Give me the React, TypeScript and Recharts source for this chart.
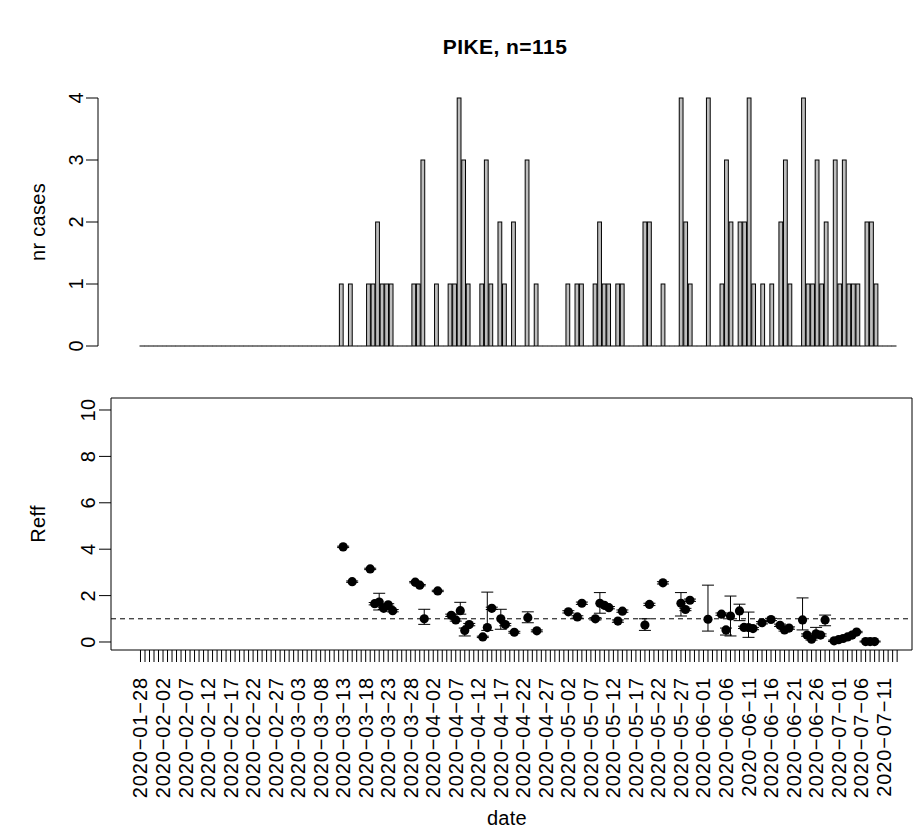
import React from 'react';
import {
  BarChart,
  Bar,
  XAxis,
  YAxis,
  ComposedChart,
  Scatter,
  ErrorBar,
  ReferenceLine,
  ReferenceArea,
} from 'recharts';

// ---------- data ----------
const TITLE = 'PIKE, n=115';
const caseStartDate = '2020-01-29';
// daily case counts, 167 days starting 2020-01-29
const cases = [
  0, 0, 0, 0, 0, 0, 0, 0, 0, 0,
  0, 0, 0, 0, 0, 0, 0, 0, 0, 0,
  0, 0, 0, 0, 0, 0, 0, 0, 0, 0,
  0, 0, 0, 0, 0, 0, 0, 0, 0, 0,
  0, 0, 0, 0,
  1, 0, 1, 0, 0, 0, 1, 1, 2, 1,
  1, 1, 0, 0, 0, 0, 1, 1, 3, 0,
  0, 1, 0, 0, 1, 1, 4, 3, 1, 0,
  0, 1, 3, 1, 0, 2, 1, 0, 2, 0,
  0, 3, 0, 1, 0, 0, 0, 0, 0, 0,
  1, 0, 1, 1, 0, 0, 1, 2, 1, 1,
  0, 1, 1, 0, 0, 0, 0, 2, 2, 0,
  0, 1, 0, 0, 0, 4, 2, 1, 0, 0,
  0, 4, 0, 0, 1, 3, 2, 0, 2, 2,
  4, 1, 0, 1, 0, 1, 0, 2, 3, 1,
  0, 0, 4, 1, 1, 3, 1, 2, 0, 3,
  1, 3, 1, 1, 1, 0, 2, 2, 1,
  0, 0, 0, 0,
];
const caseTicks = [0, 1, 2, 3, 4];

const reffDates = [
  '2020-03-13', '2020-03-15', '2020-03-19', '2020-03-20', '2020-03-21', '2020-03-22', '2020-03-23', '2020-03-24',
  '2020-03-29', '2020-03-30', '2020-03-31', '2020-04-03', '2020-04-06', '2020-04-07', '2020-04-08', '2020-04-09',
  '2020-04-10', '2020-04-13', '2020-04-14', '2020-04-15', '2020-04-17', '2020-04-18', '2020-04-20', '2020-04-23',
  '2020-04-25', '2020-05-02', '2020-05-04', '2020-05-05', '2020-05-08', '2020-05-09', '2020-05-10', '2020-05-11',
  '2020-05-13', '2020-05-14', '2020-05-19', '2020-05-20', '2020-05-23', '2020-05-27', '2020-05-28', '2020-05-29',
  '2020-06-02', '2020-06-05', '2020-06-06', '2020-06-07', '2020-06-09', '2020-06-10', '2020-06-11', '2020-06-12',
  '2020-06-14', '2020-06-16', '2020-06-18', '2020-06-19', '2020-06-20', '2020-06-23', '2020-06-24', '2020-06-25',
  '2020-06-26', '2020-06-27', '2020-06-28', '2020-06-30', '2020-07-01', '2020-07-02', '2020-07-03', '2020-07-04',
  '2020-07-05', '2020-07-07', '2020-07-08', '2020-07-09',
];
const reffMean = [
  4.1, 2.6, 3.15, 1.65, 1.72, 1.45, 1.6, 1.35,
  2.58, 2.45, 1.0, 2.2, 1.15, 0.95, 1.35, 0.5,
  0.75, 0.22, 0.62, 1.45, 1.0, 0.75, 0.42, 1.05,
  0.48, 1.3, 1.08, 1.67, 1.0, 1.67, 1.58, 1.48,
  0.9, 1.33, 0.73, 1.62, 2.55, 1.67, 1.4, 1.8,
  0.98, 1.2, 0.52, 1.12, 1.34, 0.63, 0.62, 0.58,
  0.83, 0.97, 0.72, 0.52, 0.6, 0.95, 0.3, 0.12,
  0.35, 0.3, 0.95, 0.05, 0.1, 0.15, 0.22, 0.3,
  0.43, 0.02, 0.02, 0.02,
];
const reffLow = [
  4.07, 2.57, 3.12, 1.6, 1.38, 1.4, 1.55, 1.3,
  2.55, 2.42, 0.76, 2.17, 1.1, 0.9, 1.2, 0.26,
  0.7, 0.19, 0.5, 1.4, 0.55, 0.7, 0.38, 0.83,
  0.44, 1.25, 1.03, 1.62, 0.95, 1.24, 1.53, 1.43,
  0.85, 1.28, 0.5, 1.57, 2.5, 1.12, 1.35, 1.75,
  0.47, 1.15, 0.3, 0.26, 0.92, 0.58, 0.2, 0.53,
  0.78, 0.92, 0.67, 0.47, 0.55, 0.52, 0.25, 0.08,
  0.25, 0.25, 0.7, 0.02, 0.07, 0.12, 0.19, 0.27,
  0.4, 0, 0, 0,
];
const reffHigh = [
  4.13, 2.63, 3.18, 1.7, 2.1, 1.5, 1.65, 1.4,
  2.61, 2.48, 1.41, 2.23, 1.2, 1.0, 1.71, 0.6,
  0.8, 0.25, 2.15, 1.5, 1.41, 0.8, 0.46, 1.3,
  0.52, 1.35, 1.13, 1.72, 1.05, 2.13, 1.63, 1.53,
  0.95, 1.38, 1.0, 1.67, 2.6, 2.13, 1.45, 1.85,
  2.45, 1.25, 0.6, 1.98, 1.63, 0.68, 1.29, 0.63,
  0.88, 1.02, 0.77, 0.57, 0.65, 1.9, 0.35, 0.16,
  0.63, 0.35, 1.16, 0.08, 0.13, 0.18, 0.25, 0.33,
  0.46, 0.04, 0.04, 0.04,
];
const reffTicks = [0, 2, 4, 6, 8, 10];
const axisStartDate = '2020-01-28';
const axisDayCount = 169; // daily ticks 2020-01-28 .. 2020-07-14
const labelEvery = 5;
const lastLabelDay = 165;

// ---------- helpers ----------
const FONT = '"Liberation Sans", Arial, Helvetica, sans-serif';
const DAY = 86400000;
const toMs = (s: string) => {
  const [y, m, d] = s.split('-').map(Number);
  return Date.UTC(y, m - 1, d);
};
const fmt = (ms: number) => {
  const dt = new Date(ms);
  const mm = String(dt.getUTCMonth() + 1).padStart(2, '0');
  const dd = String(dt.getUTCDate()).padStart(2, '0');
  return `${dt.getUTCFullYear()}\u2212${mm}\u2212${dd}`;
};
const axisStart = toMs(axisStartDate);
const caseStart = toMs(caseStartDate);

const caseData = cases.map((c, i) => ({ date: fmt(caseStart + i * DAY), cases: c }));
const reffData = reffDates.map((d, i) => ({
  day: Math.round((toMs(d) - axisStart) / DAY),
  reff: reffMean[i],
  err: [reffMean[i] - reffLow[i], reffHigh[i] - reffMean[i]],
}));
const allDays = Array.from({ length: axisDayCount }, (_, i) => i);

// ---------- geometry ----------
const W = 923;
const TOP_H = 380;
const BOT_TOP = 380;
const BOT_H = 458;
const X_MIN = -6.55;
const X_MAX = 171.3;
const Y_MIN = -0.345;
const Y_MAX = 10.517;

const CaseBar = (p: any) => {
  const { x, y, width, height } = p;
  if (!height) {
    return <line x1={x - 0.5} x2={x + width + 0.5} y1={y} y2={y} stroke="#000" strokeWidth={1} />;
  }
  return <rect x={x} y={y} width={width} height={height} fill="#BEBEBE" stroke="#000" strokeWidth={1} />;
};

const TopYTick = (p: any) => {
  const { y, payload } = p;
  const tx = 76;
  return (
    <text x={tx} y={y} transform={`rotate(-90 ${tx} ${y})`} textAnchor="middle" dominantBaseline="central"
      fontSize={20} fontFamily={FONT} fill="#000">{payload.value}</text>
  );
};

const BotYTick = (p: any) => {
  const { y, payload } = p;
  const tx = 88;
  return (
    <text x={tx} y={y} transform={`rotate(-90 ${tx} ${y})`} textAnchor="middle" dominantBaseline="central"
      fontSize={20} fontFamily={FONT} fill="#000" letterSpacing={0.5}>{payload.value}</text>
  );
};

const DateTick = (p: any) => {
  const { x, payload } = p;
  const d = payload.value as number;
  if (d % labelEvery !== 0 || d > lastLabelDay) return <g />;
  const ty = 297;
  return (
    <text x={x} y={ty} transform={`rotate(-90 ${x} ${ty})`} textAnchor="end" dominantBaseline="central"
      fontSize={20} fontFamily={FONT} fill="#000" letterSpacing={0.9}>{fmt(axisStart + d * DAY)}</text>
  );
};

const Dot = (p: any) => <circle cx={p.cx} cy={p.cy} r={4.6} fill="#000" />;

const textStyle: React.CSSProperties = {
  position: 'absolute',
  fontFamily: FONT,
  fontSize: 20,
  lineHeight: '24px',
  height: 24,
  width: 200,
  textAlign: 'center',
  color: '#000',
  whiteSpace: 'nowrap',
  letterSpacing: '0.3px',
};

export default function App() {
  return (
    <div style={{ position: 'absolute', left: 0, top: 0, width: W, height: 838, background: '#fff' }}>
      <div style={{ ...textStyle, left: 405, top: 35, fontWeight: 'bold', fontSize: 21, width: 200, letterSpacing: '0.45px' }}>{TITLE}</div>
      <div style={{ ...textStyle, left: 38 - 100, top: 222 - 12, transform: 'rotate(-90deg)' }}>nr cases</div>
      <div style={{ ...textStyle, left: 38 - 100, top: 524 - 12, transform: 'rotate(-90deg)' }}>Reff</div>
      <div style={{ ...textStyle, left: 507 - 100, top: 818 - 12 }}>date</div>

      <div style={{ position: 'absolute', left: 0, top: 0 }}>
        <BarChart width={W} height={TOP_H} data={caseData} margin={{ top: 98, right: 11, bottom: TOP_H - 346, left: 0 }}>
          <XAxis dataKey="date" type="category" hide padding={{ left: 42, right: 15.24 }} />
          <YAxis
            type="number"
            domain={[0, 4]}
            ticks={caseTicks}
            width={98}
            axisLine={{ stroke: '#000' }}
            tickLine={{ stroke: '#000' }}
            tickSize={12}
            tick={<TopYTick />}
            interval={0}
          />
          <Bar dataKey="cases" barSize={3.776} shape={CaseBar} isAnimationActive={false} />
        </BarChart>
      </div>

      <div style={{ position: 'absolute', left: 0, top: BOT_TOP }}>
        <ComposedChart width={W} height={BOT_H} margin={{ top: 18, right: 11, bottom: 0, left: 0 }}>
          <XAxis
            type="number"
            dataKey="day"
            domain={[X_MIN, X_MAX]}
            allowDataOverflow
            ticks={allDays}
            interval={0}
            tickSize={12}
            tickLine={{ stroke: '#000' }}
            axisLine={false}
            tick={<DateTick />}
            height={188}
          />
          <YAxis
            type="number"
            domain={[Y_MIN, Y_MAX]}
            allowDataOverflow
            ticks={reffTicks}
            interval={0}
            width={111}
            tickSize={12}
            tickLine={{ stroke: '#000' }}
            axisLine={false}
            tick={<BotYTick />}
          />
          <ReferenceArea x1={X_MIN} x2={X_MAX} y1={Y_MIN} y2={Y_MAX} fill="none" stroke="#000" strokeWidth={1} ifOverflow="visible" />
          <ReferenceLine y={1} stroke="#000" strokeWidth={1} strokeDasharray="5 4" />
          <Scatter data={reffData} dataKey="reff" shape={<Dot />} isAnimationActive={false}>
            <ErrorBar dataKey="err" direction="y" width={6} stroke="#000" strokeWidth={1} isAnimationActive={false} />
          </Scatter>
        </ComposedChart>
      </div>
    </div>
  );
}
